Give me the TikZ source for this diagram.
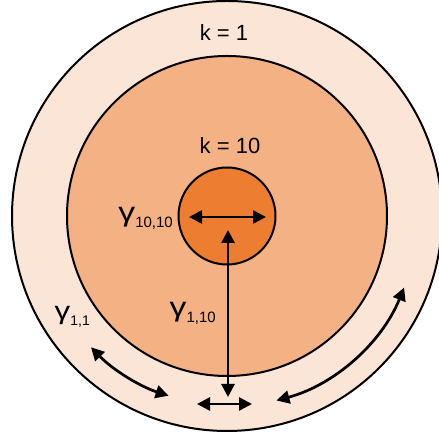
\documentclass[tikz,border=0pt]{standalone}
\usepackage{fontspec}
\setmainfont{Liberation Sans}
\usetikzlibrary{arrows.meta,calc}
\definecolor{ringlight}{HTML}{FBE5D6}
\definecolor{ringmid}{HTML}{F4B183}
\definecolor{ringcore}{HTML}{ED7D31}
% gamma with a subscript sitting on the foot of the gamma
\newcommand{\gsub}[3]{{\fontsize{#1}{#1}\selectfont\scalebox{1.25}[1]{γ}}\raisebox{-0.21\dimexpr#1pt\relax}{\fontsize{#2}{#2}\selectfont #3}}
\tikzset{
    ring/.style={circle, draw=black, line width=2pt, inner sep=0pt},
    gamma arrow/.style={{Triangle[length=13pt,width=13pt]}-{Triangle[length=13pt,width=13pt]}, line width=2.7pt},
    klabel/.style={font=\fontsize{22}{26}\selectfont, anchor=base, inner sep=0pt},
    glabel/.style={anchor=base east, inner sep=0pt}
}
\begin{document}
\begin{tikzpicture}[x=1pt, y=1pt]
    \useasboundingbox (0,0) rectangle (439,435);
    \coordinate (C) at (227,219);
    % Nested regions
    \node[ring, fill=ringlight, minimum size=430pt] (outer) at (C) {};
    \node[ring, fill=ringmid, minimum size=320pt] (mid) at (C) {};
    \node[ring, fill=ringcore, minimum size=97pt] (core) at (C) {};
    % Level labels
    \node[klabel] (k1) at (224,394) {k = 1};
    \node[klabel] (k10) at (230,281) {k = 10};
    % Arrow inside the core
    \coordinate (hl) at (189,218);
    \coordinate (hr) at (266,218);
    \draw[gamma arrow] (hl) -- (hr);
    \node[glabel] (g1010) at (173,213) {\gsub{27}{15}{10,10}};
    % Arrow from the core to the outer ring
    \coordinate (vt) at (228,205);
    \coordinate (vb) at (228,38);
    \draw[gamma arrow] (vt) -- (vb);
    \node[glabel] (g110) at (216,118) {\gsub{27}{15}{1,10}};
    % Arrows along the outer ring
    \coordinate (bl) at (197,31);
    \coordinate (br) at (252,31);
    \draw[gamma arrow] (bl) -- (br);
    \draw[gamma arrow] ([shift={(224:189pt)}]C) arc[start angle=224, end angle=252, radius=189pt];
    \draw[gamma arrow] ([shift={(285:191pt)}]C) arc[start angle=285, end angle=338, radius=191pt];
    \node[glabel] (g11) at (90,115) {\gsub{25}{14}{1,1}};
\end{tikzpicture}
\end{document}
